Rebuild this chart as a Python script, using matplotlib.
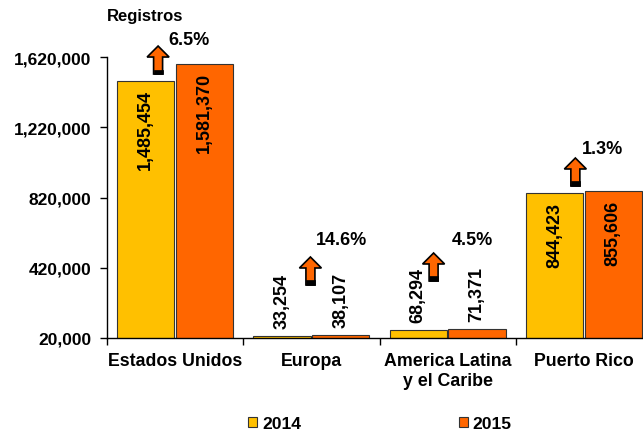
import matplotlib
matplotlib.use("Agg")
import matplotlib.pyplot as plt
import matplotlib.transforms as mtransforms
from matplotlib.patches import Polygon, Rectangle, Patch
import numpy as np

plt.rcParams['font.family'] = ['Liberation Sans', 'DejaVu Sans']
plt.rcParams['font.weight'] = 'bold'

categories = ["Estados Unidos", "Europa", "America Latina\ny el Caribe", "Puerto Rico"]
series_names = ["2014", "2015"]
values_2014 = [1485454, 33254, 68294, 844423]
values_2015 = [1581370, 38107, 71371, 855606]
yticks = [20000, 420000, 820000, 1220000, 1620000]

colors = ["#FFC000", "#FF6600"]

fig = plt.figure(figsize=(6.43, 4.35), dpi=100)
W, H = 643, 435
ax = fig.add_axes([107 / W, (H - 339) / H, 545 / W, 281 / H])

x = np.arange(len(categories))
width = 0.42
off = 0.215
bars1 = ax.bar(x - off, values_2014, width, color=colors[0], edgecolor="#333333", linewidth=0.8, label=series_names[0])
bars2 = ax.bar(x + off, values_2015, width, color=colors[1], edgecolor="#333333", linewidth=0.8, label=series_names[1])

ax.set_xlim(-0.5, len(categories) - 0.5)
ax.set_ylim(yticks[0], yticks[-1])
ax.set_yticks(yticks)
ax.set_yticklabels([f"{v:,}" for v in yticks], fontsize=12.5, fontweight='bold')
ax.set_xticks(x)
ax.set_xticklabels(categories, fontsize=12.8, fontweight='bold', linespacing=1.25)
ax.set_xticks(np.arange(len(categories) + 1) - 0.5, minor=True)
ax.tick_params(axis='x', which='major', length=0, pad=10)
ax.tick_params(axis='x', which='minor', length=5, direction='out', width=1)
ax.tick_params(axis='y', length=5, direction='out', width=1, pad=6)
ax.spines['top'].set_visible(False)
ax.spines['right'].set_visible(False)
for s in ['left', 'bottom']:
    ax.spines[s].set_linewidth(1)
    ax.spines[s].set_color('black')

# bar value labels
for bars, vals in ((bars1, values_2014), (bars2, values_2015)):
    for b, v in zip(bars, vals):
        cx = b.get_x() + b.get_width() / 2
        if v > 400000:
            ax.annotate(f"{v:,}", (cx, v), xytext=(0, -6), textcoords='offset points',
                        rotation=90, ha='center', va='top', fontsize=13, fontweight='bold')
        else:
            ax.annotate(f"{v:,}", (cx, v), xytext=(0, 5.5), textcoords='offset points',
                        rotation=90, ha='center', va='bottom', fontsize=13, fontweight='bold')

# growth arrows and percentages
arrow_pos = [(-0.125, 1523000), (0.993, 321800), (1.897, 344600), (2.9375, 885500)]
text_pos = [(0.103, 1716800), (1.224, 583700), (2.184, 583700), (3.14, 1096200)]
verts = np.array([(-4.5, 0), (4.5, 0), (4.5, 17), (11, 17), (0, 28), (-11, 17), (-4.5, 17)]) / fig.dpi
for i, (a14, a15) in enumerate(zip(values_2014, values_2015)):
    ax_, ay_ = arrow_pos[i]
    tr = fig.dpi_scale_trans + mtransforms.ScaledTranslation(ax_, ay_, ax.transData)
    poly = Polygon(verts, closed=True, facecolor=colors[1], edgecolor='black', linewidth=1.2,
                   transform=tr, clip_on=False, zorder=5)
    ax.add_patch(poly)
    rect = Rectangle((-4.5 / fig.dpi, 0), 9 / fig.dpi, 4.5 / fig.dpi, facecolor='black',
                     edgecolor='black', linewidth=0.5, transform=tr, clip_on=False, zorder=6)
    ax.add_patch(rect)
    pct = (a15 - a14) / a14 * 100
    tx, ty = text_pos[i]
    ax.text(tx, ty, f"{pct:.1f}%", ha='center', va='center', fontsize=13, fontweight='bold',
            clip_on=False)

fig.text(107 / W, 1 - 17 / H, "Registros", ha='left', va='center', fontsize=12, fontweight='bold')

handles = [Patch(facecolor=colors[0], edgecolor='#333333', linewidth=0.8),
           Patch(facecolor=colors[1], edgecolor='#333333', linewidth=0.8)]
fig.legend(handles, series_names, loc='center', bbox_to_anchor=(380 / W, 1 - 425 / H), ncol=2,
           frameon=False, prop={'weight': 'bold', 'size': 12.6},
           handlelength=0.5, handleheight=0.5, handletextpad=0.3, columnspacing=9.0)

fig.savefig("out.png", dpi=100)
